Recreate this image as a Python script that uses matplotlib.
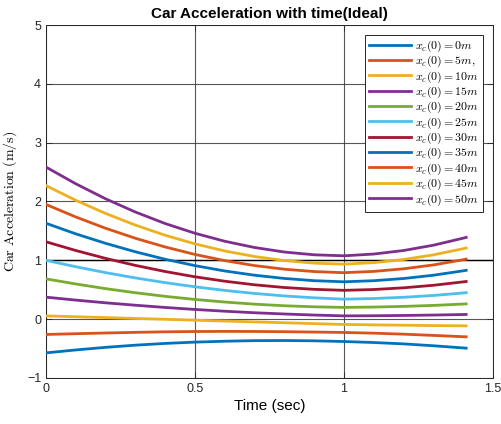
import matplotlib
matplotlib.use("Agg")
import matplotlib.pyplot as plt

plt.rcParams['mathtext.fontset'] = 'cm'
plt.rcParams['font.family'] = ['Liberation Sans', 'DejaVu Sans']

t = [0.0, 0.1, 0.2, 0.3, 0.4, 0.5, 0.6, 0.7, 0.8, 0.9, 1.0, 1.1, 1.2, 1.3, 1.4, 1.41]
initial_positions = [0, 5, 10, 15, 20, 25, 30, 35, 40, 45, 50]
accel = {
    0:  [-0.573, -0.523, -0.479, -0.442, -0.412, -0.390, -0.375, -0.365, -0.363, -0.368, -0.380, -0.397, -0.420, -0.452, -0.489, -0.493],
    5:  [-0.260, -0.247, -0.235, -0.224, -0.215, -0.210, -0.208, -0.209, -0.213, -0.219, -0.226, -0.238, -0.255, -0.276, -0.298, -0.300],
    10: [0.056, 0.041, 0.027, 0.012, -0.002, -0.017, -0.032, -0.046, -0.061, -0.076, -0.090, -0.097, -0.103, -0.109, -0.113, -0.114],
    15: [0.374, 0.324, 0.278, 0.237, 0.199, 0.165, 0.135, 0.109, 0.088, 0.070, 0.056, 0.058, 0.063, 0.070, 0.079, 0.080],
    20: [0.685, 0.598, 0.519, 0.449, 0.388, 0.335, 0.291, 0.255, 0.228, 0.210, 0.200, 0.206, 0.217, 0.234, 0.257, 0.260],
    25: [1.000, 0.891, 0.791, 0.701, 0.621, 0.550, 0.489, 0.437, 0.395, 0.363, 0.340, 0.351, 0.372, 0.403, 0.445, 0.450],
    30: [1.315, 1.167, 1.033, 0.914, 0.810, 0.720, 0.645, 0.584, 0.538, 0.507, 0.490, 0.504, 0.533, 0.576, 0.634, 0.640],
    35: [1.630, 1.450, 1.289, 1.145, 1.018, 0.910, 0.819, 0.747, 0.692, 0.654, 0.635, 0.654, 0.691, 0.747, 0.822, 0.830],
    40: [1.950, 1.737, 1.545, 1.375, 1.227, 1.100, 0.995, 0.911, 0.849, 0.809, 0.790, 0.812, 0.856, 0.922, 1.010, 1.020],
    45: [2.270, 2.020, 1.797, 1.599, 1.426, 1.280, 1.159, 1.065, 0.996, 0.952, 0.935, 0.961, 1.014, 1.093, 1.198, 1.210],
    50: [2.585, 2.301, 2.046, 1.821, 1.625, 1.460, 1.324, 1.218, 1.141, 1.094, 1.077, 1.107, 1.167, 1.257, 1.377, 1.390],
}
labels = [r'$x_c(0) = 0m$', r'$x_c(0) = 5m,$'] + [r'$x_c(0) = %dm$' % p for p in initial_positions[2:]]
ref_level = 1.0

colors = ['#0072BD', '#D95319', '#EDB120', '#7E2F8E', '#77AC30', '#4DBEEE', '#A2142F']

fig = plt.figure(figsize=(5.02, 4.24), dpi=100)
ax = fig.add_axes([46/502, 1-378/424, (493-46)/502, (378-25)/424])

ax.axhline(ref_level, color='black', lw=1.0, zorder=1.5)
for i, p in enumerate(initial_positions):
    ax.plot(t, accel[p], color=colors[i % len(colors)], lw=2.0, label=labels[i], zorder=3)

ax.set_xlim(0, 1.5)
ax.set_ylim(-1, 5)
ax.set_xticks([0, 0.5, 1, 1.5])
ax.set_xticklabels(['0', '0.5', '1', '1.5'])
ax.set_yticks([-1, 0, 1, 2, 3, 4, 5])
ax.grid(True, color='#3a3a3a', lw=0.8, alpha=0.85)
ax.set_axisbelow(True)
ax.tick_params(direction='in', labelsize=9, length=4, width=0.6, top=True, right=True, colors='#262626')
for s in ax.spines.values():
    s.set_linewidth(0.7)
    s.set_color('#262626')

ax.set_title('Car Acceleration with time(Ideal)', fontsize=11, fontweight='bold', pad=5)
ax.set_xlabel('Time (sec)', fontsize=11, labelpad=3)
ax.set_ylabel(r'$\mathrm{Car\ Acceleration\ (m/s)}$', fontsize=10, labelpad=6)

leg = ax.legend(loc='upper right', fontsize=8.6, frameon=True, fancybox=False, framealpha=1,
                edgecolor='#262626', handlelength=3.5, labelspacing=0.0, borderpad=0.35,
                handletextpad=0.4, borderaxespad=0.8)
leg.get_frame().set_linewidth(0.7)

fig.savefig('out.png', dpi=100)
